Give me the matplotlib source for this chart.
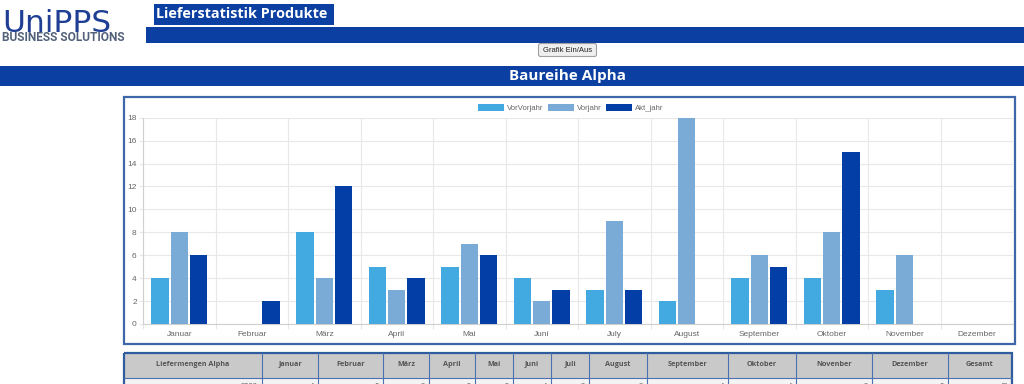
import numpy as np
import matplotlib
matplotlib.use("Agg")
import matplotlib.pyplot as plt
from matplotlib.patches import Rectangle, FancyBboxPatch

# ---------------- data ----------------
months = ["Januar", "Februar", "März", "April", "Mai", "Juni", "July",
          "August", "September", "Oktober", "November", "Dezember"]
series_names = ["VorVorjahr", "Vorjahr", "Akt_jahr"]
vorvorjahr = [4, 0, 8, 5, 5, 4, 3, 2, 4, 4, 3, 0]
vorjahr = [8, 0, 4, 3, 7, 2, 9, 18, 6, 8, 6, 0]
akt_jahr = [6, 2, 12, 4, 6, 3, 3, 0, 5, 15, 0, 0]
y_ticks = [0, 2, 4, 6, 8, 10, 12, 14, 16, 18]

table_header = ["Liefermengen Alpha", "Januar", "Februar", "März", "April", "Mai",
                "Juni", "Juli", "August", "September", "Oktober", "Novenber",
                "Dezember", "Gesamt"]
table_year = "2022"
table_row_values = vorvorjahr

logo_word = "UniPPS"
logo_sub = "BUSINESS SOLUTIONS"
page_title = "Lieferstatistik Produkte"
section_title = "Baureihe Alpha"
button_label = "Grafik Ein/Aus"

# ---------------- styles ----------------
series_colors = ["#42a9e1", "#79abd6", "#033ea6"]
page_blue = "#0b3fa1"
W, H = 1024, 384

fig = plt.figure(figsize=(W / 100, H / 100), dpi=100)
fig.patch.set_facecolor("white")

# background axes in pixel coordinates
bg = fig.add_axes([0, 0, 1, 1], zorder=0)
bg.set_xlim(0, W)
bg.set_ylim(H, 0)
bg.axis("off")

# logo
bg.text(2, 31.5, logo_word, fontsize=22.5, color="#1f3f94", family="DejaVu Sans",
        ha="left", va="baseline")
bg.text(2.5, 41, logo_sub, fontsize=8.6, color="#52617a",
        family="Roboto", weight="bold", ha="left", va="baseline")

# page title
bg.add_patch(Rectangle((154, 4), 180, 21, fc=page_blue, ec="none"))
bg.text(156.5, 14.5, page_title, fontsize=10.4, color="white", family="Open Sans",
        weight="bold", ha="left", va="center")
bg.add_patch(Rectangle((146, 27), W - 146, 16, fc=page_blue, ec="none"))

# button
bg.add_patch(FancyBboxPatch((538.5, 43.5), 58, 13,
                            boxstyle="round,pad=0,rounding_size=2",
                            fc="#efefef", ec="#a0a0a0", lw=0.8))
bg.text(567.5, 50.2, button_label, fontsize=5.5, color="#222222",
        family="Liberation Sans", ha="center", va="center")

# section bar
bg.add_patch(Rectangle((0, 66), W, 20, fc=page_blue, ec="none"))
bg.text(567.5, 76, section_title, fontsize=11, color="white", family="Open Sans",
        weight="bold", ha="center", va="center")

# chart frame
bg.add_patch(Rectangle((124, 97), 891, 246.5, fill=False, ec="#3d67a8", lw=1.6))

# ---------------- chart ----------------
left, right, top, bottom = 143, 1013, 117.7, 324
ax = fig.add_axes([left / W, (H - bottom) / H, (right - left) / W, (bottom - top) / H],
                  zorder=2)
ax.set_facecolor("none")
x = np.arange(len(months))
slot = 0.8 / 3
bw = slot * 0.9
for i, (vals, name, col) in enumerate(zip([vorvorjahr, vorjahr, akt_jahr],
                                           series_names, series_colors)):
    ax.bar(x + (i - 1) * slot, vals, width=bw, color=col, label=name, zorder=3)

ax.set_xlim(-0.5, len(months) - 0.5)
ax.set_ylim(0, 18)
ax.set_yticks(y_ticks)
ax.set_xticks(x)
ax.set_xticklabels(months)
ax.set_xticks(np.arange(-0.5, len(months), 1), minor=True)
ax.set_axisbelow(True)
ax.grid(which="minor", axis="x", color="#e8e8e8", lw=0.8)
ax.grid(which="major", axis="y", color="#e8e8e8", lw=0.8)
ax.tick_params(axis="x", which="major", length=0, pad=4.8, labelsize=6,
               labelcolor="#666666")
ax.tick_params(axis="x", which="minor", length=3.5, color="#e8e8e8", width=0.8)
ax.tick_params(axis="y", length=3, color="#e8e8e8", width=0.8, pad=1.5,
               labelsize=6, labelcolor="#666666")
for lab in ax.get_xticklabels() + ax.get_yticklabels():
    lab.set_family("Liberation Sans")
for s in ["top", "right"]:
    ax.spines[s].set_visible(False)
for s in ["left", "bottom"]:
    ax.spines[s].set_color("#d0d0d0")
    ax.spines[s].set_linewidth(0.8)

leg = ax.legend(loc="center", bbox_to_anchor=(570.5 / W, (H - 108) / H),
                bbox_transform=fig.transFigure, ncol=3, frameon=False,
                handlelength=3.35, handleheight=0.9,
                handletextpad=0.4, columnspacing=0.55,
                prop={"family": "Liberation Sans", "size": 5.6})
for t in leg.get_texts():
    t.set_color("#666666")

# ---------------- table ----------------
col_edges = [123.5, 262, 318, 383, 429, 475, 513, 551, 589, 647, 728, 796, 872,
             948, 1012]
ty0, ty1, ty2 = 352.5, 378, 395
bg.add_patch(Rectangle((col_edges[0], ty0), col_edges[-1] - col_edges[0], ty1 - ty0,
                       fc="#c9c9c9", ec="none"))
bg.add_patch(Rectangle((col_edges[0], ty1), col_edges[-1] - col_edges[0], ty2 - ty1,
                       fc="#f3f3f3", ec="none"))
for xe in col_edges[1:-1]:
    bg.plot([xe, xe], [ty0, ty2], color="#4a72b0", lw=0.8)
bg.plot([col_edges[0], col_edges[-1]], [ty1, ty1], color="#4a72b0", lw=0.8)
bg.add_patch(Rectangle((col_edges[0], ty0), col_edges[-1] - col_edges[0], ty2 - ty0,
                       fill=False, ec="#2f5c9f", lw=1.6))
for j, lab in enumerate(table_header):
    cx = (col_edges[j] + col_edges[j + 1]) / 2
    bg.text(cx, 364, lab, fontsize=5.2, color="#555555", family="Open Sans",
            weight="bold", ha="center", va="center")
row_cells = [table_year] + [str(v) for v in table_row_values] + [str(sum(table_row_values))]
for j, val in enumerate(row_cells):
    bg.text(col_edges[j + 1] - 4, 386.5, val, fontsize=5.3, color="#555555",
            family="Open Sans", ha="right", va="center")

fig.savefig("out.png", dpi=100, facecolor="white")
